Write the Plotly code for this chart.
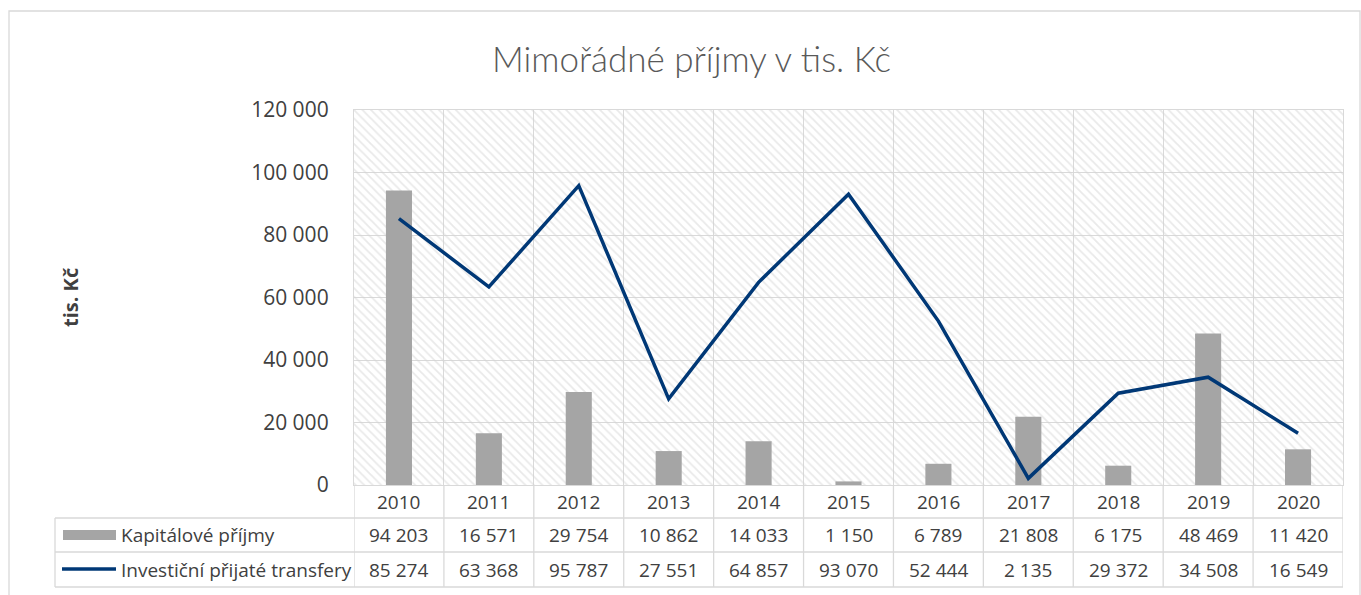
import plotly.graph_objects as go

years = ["2010", "2011", "2012", "2013", "2014", "2015", "2016", "2017", "2018", "2019", "2020"]
kapitalove = [94203, 16571, 29754, 10862, 14033, 1150, 6789, 21808, 6175, 48469, 11420]
investicni = [85274, 63368, 95787, 27551, 64857, 93070, 52444, 2135, 29372, 34508, 16549]
series_names = ["Kapitálové příjmy", "Investiční přijaté transfery"]
y_ticks = [0, 20000, 40000, 60000, 80000, 100000, 120000]
title_text = "Mimořádné příjmy v tis. Kč"
y_title = "tis. Kč"

W_FIG, H_FIG = 1361, 595
L, R, T, B = 354, 1343, 110, 485
PW, PH = R - L, B - T
FONT = "Open Sans"
TXT = "#404040"
GRID = "#d9d9d9"
BAR = "#a5a5a5"
LINE = "#003876"
FS = 19


def fx(p):
    return (p - L) / PW


def fy(p):
    return (B - p) / PH


def fmt(v):
    return f"{v:,}".replace(",", " ")


n = len(years)
xs = list(range(n))
ymax = y_ticks[-1]

fig = go.Figure()
# hatched plot-area background
fig.add_trace(go.Bar(
    x=[(n - 1) / 2], y=[ymax], width=[n],
    marker=dict(color="rgba(0,0,0,0)", line=dict(width=0),
                pattern=dict(shape="\\", fgcolor="#d4d4d4", bgcolor="rgba(0,0,0,0)",
                             size=6, solidity=0.3)),
    hoverinfo="skip", showlegend=False))
fig.add_trace(go.Bar(x=xs, y=kapitalove, width=0.29, name=series_names[0],
                     marker=dict(color=BAR, line=dict(width=0)), showlegend=False))
fig.add_trace(go.Scatter(x=xs, y=investicni, mode="lines", name=series_names[1],
                         line=dict(color=LINE, width=3.5), showlegend=False))

shapes = []
annotations = []
row_y = [B, 518, 552, 587]
for yy in row_y[1:]:
    shapes.append(dict(type="line", xref="paper", yref="paper", x0=fx(55), x1=fx(R),
                       y0=fy(yy), y1=fy(yy), line=dict(color=GRID, width=1.3)))
shapes.append(dict(type="line", xref="paper", yref="paper", x0=fx(55), x1=fx(55),
                   y0=fy(row_y[1]), y1=fy(row_y[3]), line=dict(color=GRID, width=1.3)))
for i in range(n + 1):
    shapes.append(dict(type="line", xref="x", yref="paper", x0=i - 0.5, x1=i - 0.5,
                       y0=0, y1=fy(row_y[3]), line=dict(color=GRID, width=1.3)))
shapes.append(dict(type="rect", xref="paper", yref="paper", x0=fx(63), x1=fx(116),
                   y0=fy(540), y1=fy(530), fillcolor=BAR, line=dict(width=0)))
shapes.append(dict(type="line", xref="paper", yref="paper", x0=fx(62), x1=fx(116),
                   y0=fy(569), y1=fy(569), line=dict(color=LINE, width=3.5)))
shapes.append(dict(type="rect", xref="paper", yref="paper", x0=fx(9), x1=fx(1360),
                   y0=fy(605), y1=fy(11), line=dict(color="#d9d9d9", width=1.3)))

row_centers = [(row_y[k] + row_y[k + 1]) / 2 for k in range(3)]
cell_font = dict(family=FONT, size=FS, color=TXT)
for i in range(n):
    for k, txt in enumerate([years[i], fmt(kapitalove[i]), fmt(investicni[i])]):
        annotations.append(dict(x=i, y=fy(row_centers[k]), xref="x", yref="paper",
                                xanchor="center", yanchor="middle",
                                text=txt, showarrow=False, font=cell_font))
for k, name in enumerate(series_names):
    annotations.append(dict(x=fx(119), y=fy(row_centers[k + 1]), xref="paper", yref="paper",
                            xanchor="left", yanchor="middle", text=name, showarrow=False,
                            font=cell_font))
annotations.append(dict(x=fx(70), y=fy(297), xref="paper", yref="paper", text="<b>" + y_title + "</b>",
                        textangle=-90, xanchor="center", yanchor="middle", showarrow=False,
                        font=dict(family=FONT, size=20, color=TXT)))
annotations.append(dict(x=fx(691), y=fy(58), xref="paper", yref="paper", text=title_text,
                        xanchor="center", yanchor="middle",
                        showarrow=False, font=dict(family="Lato", size=35, color="#595959", weight=300)))

fig.update_layout(
    width=W_FIG, height=H_FIG,
    margin=dict(l=L, r=W_FIG - R, t=T, b=H_FIG - B, pad=0),
    paper_bgcolor="white", plot_bgcolor="white",
    barmode="overlay", showlegend=False,
    shapes=shapes, annotations=annotations,
    xaxis=dict(range=[-0.5, n - 0.5], tickvals=[i - 0.5 for i in range(n + 1)],
               showticklabels=False, showgrid=True, gridcolor=GRID, gridwidth=1.3,
               showline=True, linecolor=GRID, linewidth=1.3, mirror=True, zeroline=False,
               fixedrange=True),
    yaxis=dict(range=[0, ymax], tickvals=y_ticks, ticktext=[fmt(v) for v in y_ticks],
               showgrid=True, gridcolor=GRID, gridwidth=1.3,
               showline=True, linecolor=GRID, linewidth=1.3, mirror=True, zeroline=False,
               ticks="outside", ticklen=20, tickcolor="rgba(0,0,0,0)",
               tickfont=dict(family=FONT, size=21, color=TXT)),
)

fig.write_html("out.html", config={"displayModeBar": False},
               post_script="document.body.style.margin='0';")
